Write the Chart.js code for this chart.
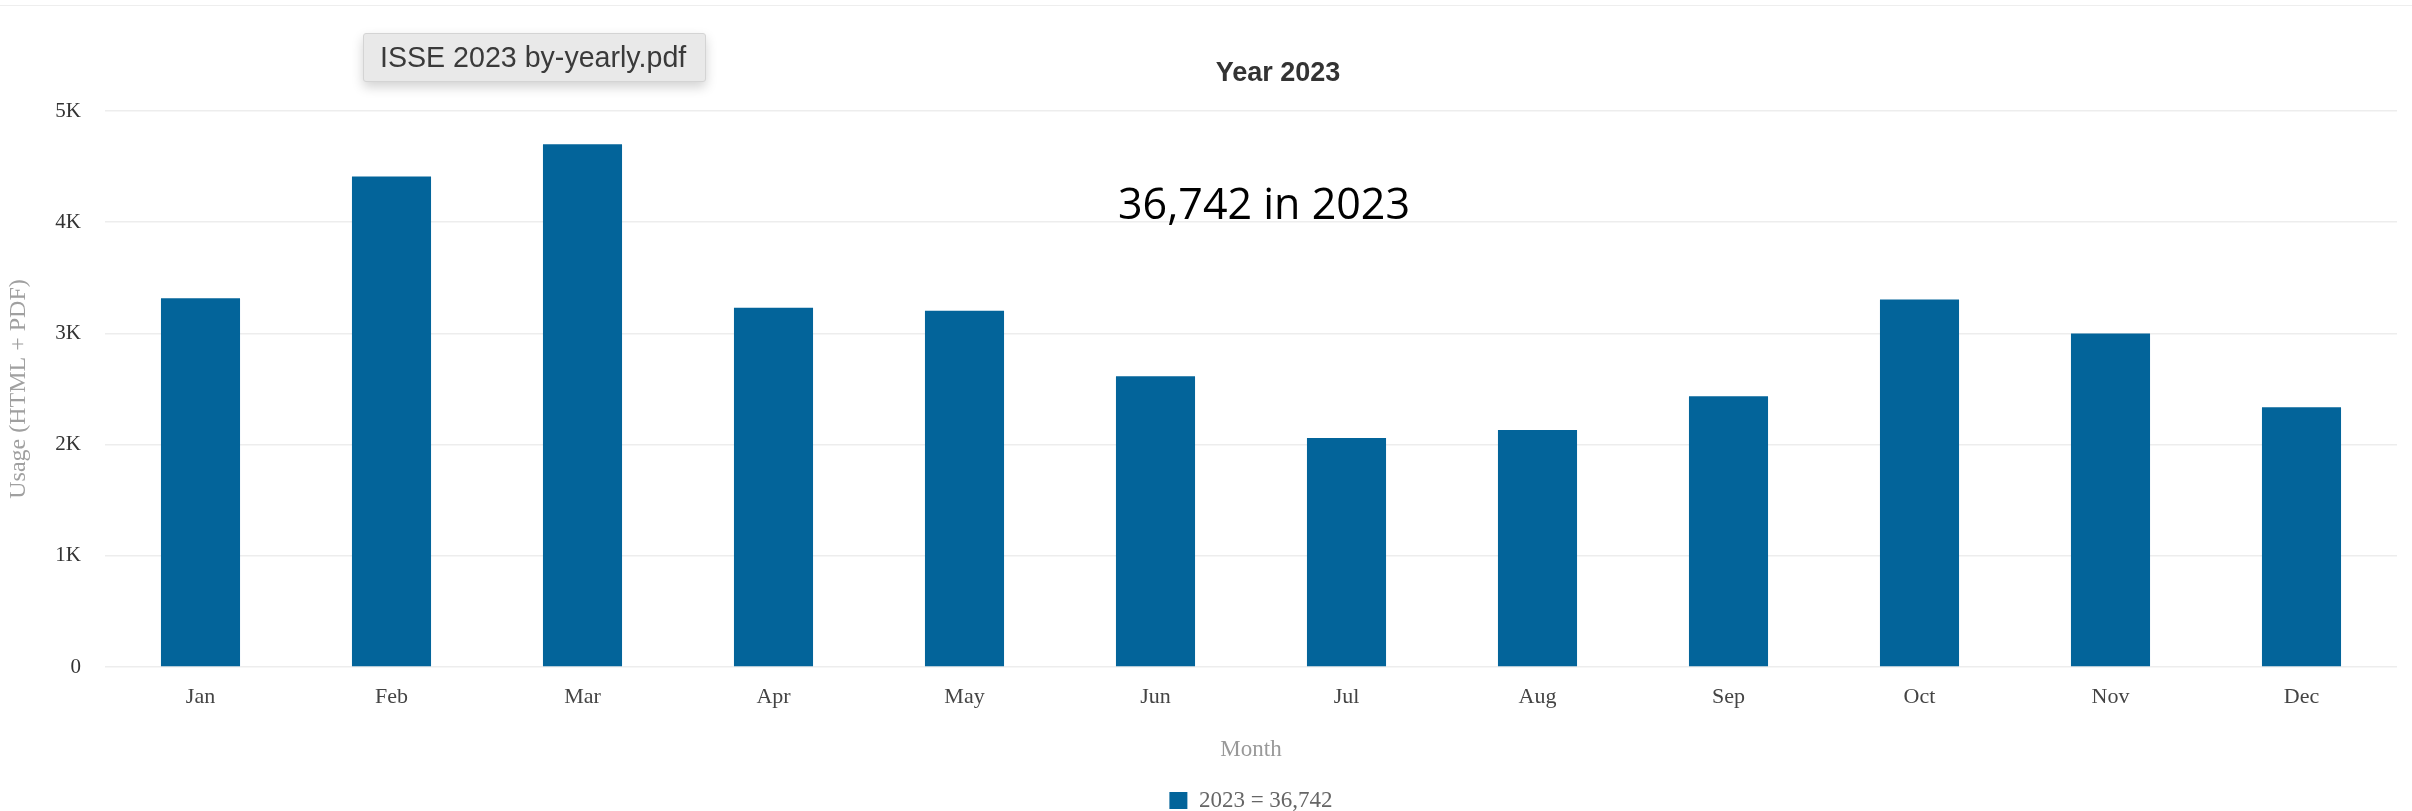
<!DOCTYPE html>
<html>
<head>
<meta charset="utf-8">
<script src="https://cdn.jsdelivr.net/npm/chart.js@4.4.1/dist/chart.umd.min.js"></script>
<style>
  html, body { margin: 0; padding: 0; background: #fff; overflow: hidden; }
  #wrap { position: relative; width: 2412px; height: 811px; }
  #usageChart { position: absolute; left: 0; top: 0; }
  .topline { position: absolute; left: 0; top: 5px; width: 2412px; height: 1px; background: #eeeeee; }
  .chart-title {
    position: absolute; left: 1178px; top: 59px; width: 200px; text-align: center;
    font: bold 27px "Liberation Sans", Arial, sans-serif; line-height: 27px; color: #333;
  }
  .note {
    position: absolute; left: 1118px; top: 181px; white-space: nowrap;
    font: 43px "Open Sans", sans-serif; line-height: 43px; color: #000;
  }
  .filetip {
    position: absolute; left: 363px; top: 33px; width: 343px; height: 49px; box-sizing: border-box;
    padding-left: 16px; background: #e9e9e9; border: 1px solid #d4d4d4; border-radius: 3px;
    box-shadow: 0 5px 12px rgba(0,0,0,0.18);
    font: 28.6px "Liberation Sans", Arial, sans-serif; line-height: 47px; color: #3a3a3a; white-space: nowrap;
  }
</style>
</head>
<body>
<div id="wrap">
  <div class="topline"></div>
  <canvas id="usageChart" width="2412" height="811"></canvas>
  <div class="chart-title">Year 2023</div>
  <div class="note">36,742 in 2023</div>
  <div class="filetip">ISSE 2023 by-yearly.pdf</div>
</div>
<script>
// Monthly usage (HTML + PDF)
const months = ["Jan", "Feb", "Mar", "Apr", "May", "Jun", "Jul", "Aug", "Sep", "Oct", "Nov", "Dec"];
const usage2023 = [3317, 4411, 4702, 3230, 3203, 2615, 2059, 2131, 2434, 3305, 3000, 2335];
const seriesLabel = "2023 = 36,742";
const yTickLabels = ["0", "1K", "2K", "3K", "4K", "5K"];

const serif = "'Liberation Serif', 'Times New Roman', serif";
const barColor = "#03649a";

// Center the legend under the plot area instead of the whole canvas
const legendUnderPlot = {
  id: "legendUnderPlot",
  afterLayout(chart) {
    const lg = chart.legend;
    const area = chart.chartArea;
    const shift = (area.left + area.right) / 2 - (lg.left + lg.right) / 2;
    lg.left += shift;
    lg.right += shift;
  },
};

const ctx = document.getElementById("usageChart").getContext("2d");

const usageChart = new Chart(ctx, {
  type: "bar",
  data: {
    labels: months,
    datasets: [
      {
        label: seriesLabel,
        data: usage2023,
        backgroundColor: barColor,
        borderWidth: 0,
        categoryPercentage: 1,
        barPercentage: 0.414,
      },
    ],
  },
  options: {
    responsive: false,
    animation: false,
    devicePixelRatio: 1,
    layout: { padding: { top: 111, right: 15, bottom: -11, left: 0 } },
    scales: {
      x: {
        grid: { display: false },
        border: { display: false },
        ticks: { color: "#444", font: { family: serif, size: 22 }, padding: 9 },
        title: {
          display: true,
          text: "Month",
          color: "#999",
          font: { family: serif, size: 23 },
          padding: { top: 0, bottom: 25 },
        },
        afterFit: (scale) => { scale.height = 122; },
      },
      y: {
        min: 0,
        max: 5000,
        grid: { color: "#ededed", lineWidth: 1.5, drawTicks: false },
        border: { display: false },
        ticks: {
          stepSize: 1000,
          color: "#333",
          font: { family: serif, size: 21 },
          padding: 24,
          callback: (value) => yTickLabels[value / 1000],
        },
        title: {
          display: true,
          text: "Usage (HTML + PDF)",
          color: "#a0a0a0",
          font: { family: serif, size: 24 },
        },
        afterFit: (scale) => { scale.width = 105; },
      },
    },
    plugins: {
      legend: {
        display: true,
        position: "bottom",
        labels: {
          boxWidth: 18,
          boxHeight: 17,
          padding: 0,
          color: "#666",
          font: { family: serif, size: 23 },
        },
      },
      tooltip: { enabled: false },
    },
  },
  plugins: [legendUnderPlot],
});
</script>
</body>
</html>
